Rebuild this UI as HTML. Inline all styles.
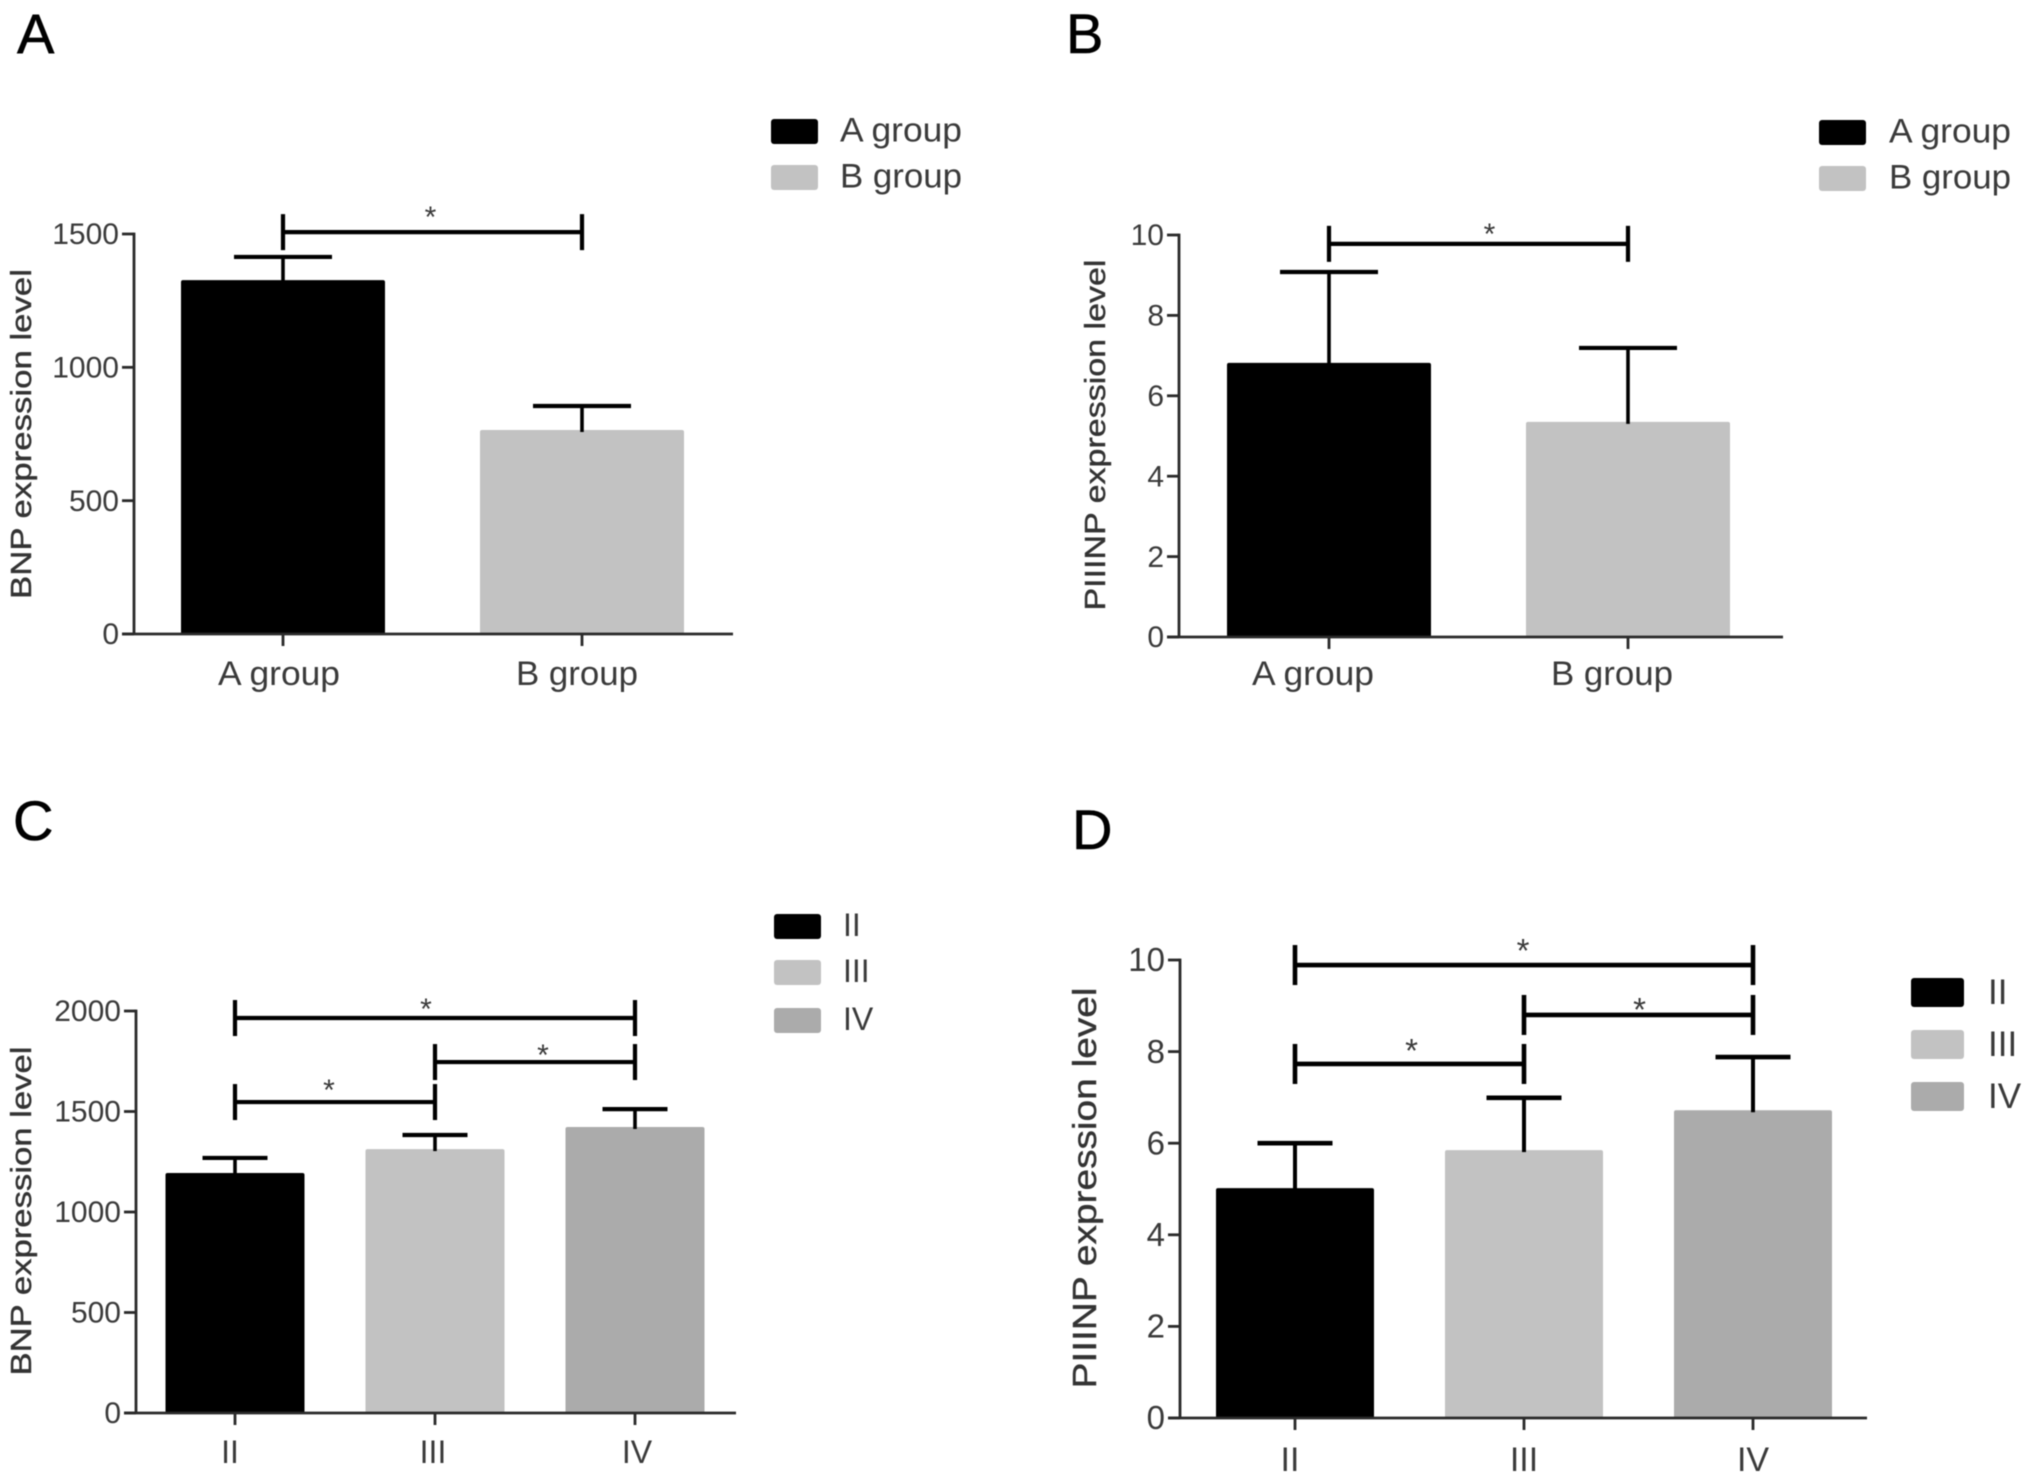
<!DOCTYPE html>
<html lang="en">
<head>
<meta charset="utf-8">
<title>BNP and PIIINP expression levels</title>
<style>
html,body{margin:0;padding:0;background:#fff;width:2031px;height:1480px;overflow:hidden}
svg{display:block;font-family:"Liberation Sans",Arial,sans-serif;filter:blur(.5px)}
</style>
</head>
<body>
<svg id="figure" xmlns="http://www.w3.org/2000/svg" width="2031" height="1480" viewBox="0 0 2031 1480"></svg>
<script>
// ---- chart data ----
const groupCategories = ['A group', 'B group'];
const gradeCategories = ['II', 'III', 'IV'];

const panelAMeans = [1327, 765];
const panelAUpper = [1414, 855];
const panelATicks = [0, 500, 1000, 1500];
const panelABrackets = [[0, 1, 1507]];

const panelBMeans = [6.82, 5.35];
const panelBUpper = [9.08, 7.19];
const panelBTicks = [0, 2, 4, 6, 8, 10];
const panelBBrackets = [[0, 1, 9.78]];

const panelCMeans = [1194, 1313, 1423];
const panelCUpper = [1269, 1383, 1512];
const panelCTicks = [0, 500, 1000, 1500, 2000];
const panelCBrackets = [[0, 2, 1965], [1, 2, 1746], [0, 1, 1547]];

const panelDMeans = [5.02, 5.85, 6.72];
const panelDUpper = [6.0, 6.99, 7.88];
const panelDTicks = [0, 2, 4, 6, 8, 10];
const panelDBrackets = [[0, 2, 9.89], [1, 2, 8.8], [0, 1, 7.73]];

const barFills = ['#000000', '#c2c2c2', '#ababab'];

// ---- layout ----
const panels = [
  {id:'a', letter:'A', letterX:17, letterY:53, title:'BNP expression level',
   cats:groupCategories, means:panelAMeans, upper:panelAUpper, ticks:panelATicks, brackets:panelABrackets,
   axisX:134, axisEnd:733, y0:634, yTop:234, yMax:1500, x0:283, step:299, barW:204, capW:98,
   tickFont:30, catFont:34, catY:685, catDx:[-4,-5], catLen:122, titleFont:29, titleX:31, titleLen:330, titleY:434,
   legX:771, legW:47, legH:25, legYs:[119,165], legTextX:840, legTextDy:-1, legFont:34, legLen:122,
   bracketHalf:18, stroke:4.2, starOff:[[0,3]]},
  {id:'b', letter:'B', letterX:1066, letterY:53, title:'PIIINP expression level',
   cats:groupCategories, means:panelBMeans, upper:panelBUpper, ticks:panelBTicks, brackets:panelBBrackets,
   axisX:1179, axisEnd:1783, y0:637, yTop:235, yMax:10, x0:1329, step:299, barW:204, capW:98,
   tickFont:30, catFont:34, catY:685, catDx:[-16,-16], catLen:122, titleFont:29, titleX:1105, titleLen:351, titleY:435,
   legX:1819, legW:47, legH:25, legYs:[120,166], legTextX:1889, legTextDy:-1, legFont:34, legLen:122,
   bracketHalf:18, stroke:4.2, starOff:[[13,8]]},
  {id:'c', letter:'C', letterX:13, letterY:840, title:'BNP expression level',
   cats:gradeCategories, means:panelCMeans, upper:panelCUpper, ticks:panelCTicks, brackets:panelCBrackets,
   axisX:136, axisEnd:736, y0:1413, yTop:1011, yMax:2000, x0:235, step:200, barW:139, capW:65,
   tickFont:30, catFont:32, catY:1463, catDx:[-5,-2,2], catLen:0, titleFont:29, titleX:31, titleLen:329, titleY:1211,
   legX:774, legW:47, legH:25, legYs:[914,960,1008], legTextX:843, legTextDy:-1, legFont:32, legLen:0,
   bracketHalf:18, stroke:4.2, starOff:[[-7,9],[10,11],[-4,6]]},
  {id:'d', letter:'D', letterX:1072, letterY:849, title:'PIIINP expression level',
   cats:gradeCategories, means:panelDMeans, upper:panelDUpper, ticks:panelDTicks, brackets:panelDBrackets,
   axisX:1180, axisEnd:1867, y0:1418, yTop:960, yMax:10, x0:1295, step:229, barW:158, capW:75,
   tickFont:33, catFont:34, catY:1471, catDx:[-5,0,0], catLen:0, titleFont:33, titleX:1096, titleLen:401, titleY:1188,
   legX:1911, legW:53, legH:29, legYs:[978,1030,1082], legTextX:1988, legTextDy:0, legFont:35, legLen:0,
   bracketHalf:20, stroke:4.6, starOff:[[1,5],[3,14],[4,6]]}
];

const NS = 'http://www.w3.org/2000/svg';
const root = document.getElementById('figure');

function make(tag, parent, props) {
  const el = document.createElementNS(NS, tag);
  for (const k in props) el.setAttribute(k, props[k]);
  parent.appendChild(el);
  return el;
}
function slug(s) {
  return s.toLowerCase().replace(/\s+/g, '-');
}

panels.forEach(function (p) {
  const yScale = function (v) { return p.y0 - (v / p.yMax) * (p.y0 - p.yTop); };
  const xScale = function (i) { return p.x0 + i * p.step; };

  const g = make('g', root, {});
  
  

  const letter = make('text', g, {x:p.letterX, y:p.letterY, 'font-size':56, fill:'#000', stroke:'#000', 'stroke-width':0.6});
  letter.textContent = p.letter;
  
  

  // bars
  p.means.forEach(function (m, i) {
    const top = yScale(m);
    const bar = make('rect', g, {x:xScale(i) - p.barW / 2, y:top, width:p.barW, height:p.y0 - top, rx:2, fill:barFills[i]});
    
    
  });

  // error bars
  p.upper.forEach(function (u, i) {
    const eb = make('g', g, {stroke:'#000', fill:'none'});
    
    
    make('line', eb, {x1:xScale(i), x2:xScale(i), y1:yScale(u), y2:yScale(p.means[i]) + 2, 'stroke-width':p.stroke - 0.6});
    make('line', eb, {x1:xScale(i) - p.capW / 2, x2:xScale(i) + p.capW / 2, y1:yScale(u), y2:yScale(u), 'stroke-width':p.stroke});
  });

  // axes
  const axes = make('g', g, {stroke:'#2a2a2a', 'stroke-width':2.8, fill:'none'});
  
  
  make('line', axes, {x1:p.axisX, x2:p.axisX, y1:p.yTop - 1.4, y2:p.y0});
  make('line', axes, {x1:p.axisX - 12, x2:p.axisEnd, y1:p.y0, y2:p.y0});

  // y ticks
  p.ticks.forEach(function (t) {
    const y = yScale(t);
    make('line', axes, {x1:p.axisX - 12, x2:p.axisX, y1:y, y2:y});
    const lab = make('text', g, {x:p.axisX - 15, y:y + p.tickFont * 0.34, 'font-size':p.tickFont, 'text-anchor':'end', fill:'#3a3a3a'});
    lab.textContent = String(t);
    
    
  });

  // x ticks and labels
  p.cats.forEach(function (c, i) {
    const x = xScale(i);
    make('line', axes, {x1:x, x2:x, y1:p.y0, y2:p.y0 + 12});
    const props = {x:x + p.catDx[i], y:p.catY, 'font-size':p.catFont, 'text-anchor':'middle', fill:'#3a3a3a'};
    if (p.catLen) { props.textLength = p.catLen; props.lengthAdjust = 'spacingAndGlyphs'; }
    const lab = make('text', g, props);
    lab.textContent = c;
    
    
  });

  // y axis title
  const title = make('text', g, {x:0, y:0, 'font-size':p.titleFont, 'text-anchor':'middle', fill:'#333', stroke:'#333', 'stroke-width':0.4,
    textLength:p.titleLen, lengthAdjust:'spacingAndGlyphs', transform:'translate(' + p.titleX + ' ' + p.titleY + ') rotate(-90)'});
  title.textContent = p.title;
  
  

  // significance brackets
  p.brackets.forEach(function (b, bi) {
    const x1 = xScale(b[0]), x2 = xScale(b[1]), y = yScale(b[2]);
    const br = make('g', g, {stroke:'#000', 'stroke-width':p.stroke, fill:'none'});
    
    
    make('line', br, {x1:x1, x2:x2, y1:y, y2:y});
    make('line', br, {x1:x1, x2:x1, y1:y - p.bracketHalf, y2:y + p.bracketHalf});
    make('line', br, {x1:x2, x2:x2, y1:y - p.bracketHalf, y2:y + p.bracketHalf});
    const star = make('text', g, {x:(x1 + x2) / 2 - 2 + p.starOff[bi][0], y:y - 8 + p.starOff[bi][1], 'font-size':p.tickFont, 'text-anchor':'middle', fill:'#3a3a3a'});
    star.textContent = '*';
    
    
  });

  // legend
  p.cats.forEach(function (c, i) {
    const item = make('g', g, {});
    
    
    make('rect', item, {x:p.legX, y:p.legYs[i], width:p.legW, height:p.legH, rx:3, fill:barFills[i]});
    const props = {x:p.legTextX, y:p.legYs[i] + p.legH / 2 + p.legFont * 0.33 + p.legTextDy, 'font-size':p.legFont, fill:'#3a3a3a'};
    if (p.legLen) { props.textLength = p.legLen; props.lengthAdjust = 'spacingAndGlyphs'; }
    const txt = make('text', item, props);
    txt.textContent = c;
  });
});
</script>
</body>
</html>
